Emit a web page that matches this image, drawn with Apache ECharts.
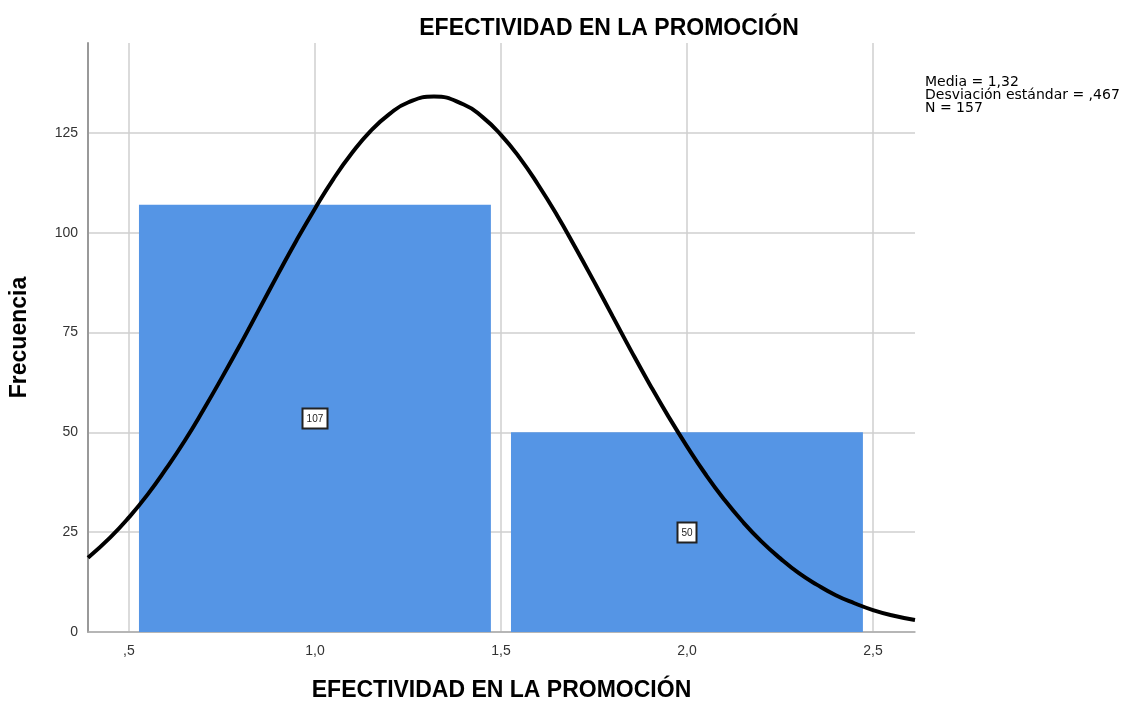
<!DOCTYPE html>
<html><head><meta charset="utf-8">
<script src="https://cdn.jsdelivr.net/npm/echarts@6/dist/echarts.min.js"></script>
<style>html,body{margin:0;padding:0;background:#fff}#c{width:1129px;height:708px}</style>
</head><body><div id="c"></div>
<script>
// Histogram bins (centers) and frequencies
const binCenters = [1, 2];
const frequencies = [107, 50];
// Normal curve heights
const curveX = [0.39, 0.45, 0.5, 0.55, 0.6, 0.65, 0.7, 0.75, 0.8, 0.85, 0.9, 0.95, 1.0, 1.05, 1.1, 1.15, 1.2, 1.25, 1.32, 1.4, 1.45, 1.5, 1.55, 1.6, 1.65, 1.7, 1.75, 1.8, 1.85, 1.9, 1.95, 2.0, 2.05, 2.1, 2.15, 2.2, 2.25, 2.3, 2.35, 2.4, 2.45, 2.5, 2.55, 2.613];
const curveY = [18.6, 23.7, 28.7, 34.4, 40.9, 47.9, 55.6, 63.7, 72.1, 80.8, 89.5, 98.0, 106.0, 113.5, 120.0, 125.5, 129.7, 132.6, 134.1, 132.1, 129.0, 124.5, 118.8, 112.0, 104.5, 96.3, 87.8, 79.1, 70.4, 62.0, 54.0, 46.5, 39.5, 33.2, 27.6, 22.7, 18.5, 14.8, 11.8, 9.2, 7.2, 5.5, 4.2, 3.0];
const xTicks = [0.5, 1.0, 1.5, 2.0, 2.5];
const xTickLabels = [',5', '1,0', '1,5', '2,0', '2,5'];
const yTicks = [0, 25, 50, 75, 100, 125];
const statsLines = ['Media = 1,32', 'Desviación estándar = ,467', 'N = 157'];

const chart = echarts.init(document.getElementById('c'), null, {renderer: 'canvas'});
const FONT = 'Liberation Sans, Arial, sans-serif';
const WFONT = 'DejaVu Sans, sans-serif';
const halfBar = 0.473;

const option = {
  animation: false,
  backgroundColor: '#fff',
  title: {
    text: 'EFECTIVIDAD EN LA PROMOCIÓN',
    left: 604, top: 12, textAlign: 'center',
    textStyle: {fontFamily: FONT, fontSize: 23, fontWeight: 'bold', color: '#000'}
  },
  graphic: [{
    type: 'text', left: 925, top: 75,
    style: {text: statsLines.join('\n'), fontFamily: WFONT, fontSize: 14, lineHeight: 13, fill: '#000'}
  }],
  grid: {left: 88, right: 214, top: 43, bottom: 76, containLabel: false, outerBoundsMode: 'none'},
  xAxis: {
    type: 'value', min: 0.39, max: 2.613,
    name: 'EFECTIVIDAD EN LA PROMOCIÓN', nameLocation: 'middle', nameGap: 47,
    nameTextStyle: {fontFamily: FONT, fontSize: 23, fontWeight: 'bold', color: '#000'},
    axisLine: {show: true, lineStyle: {color: '#aaa', width: 1.5}},
    axisTick: {show: false, customValues: xTicks},
    axisLabel: {customValues: xTicks, fontFamily: FONT, fontSize: 14, color: '#333', margin: 12,
      formatter: v => { const i = xTicks.findIndex(t => Math.abs(t - v) < 1e-6); return i >= 0 ? xTickLabels[i] : ''; }},
    splitLine: {show: true, lineStyle: {color: '#cfcfcf', width: 1.5}}
  },
  yAxis: {
    type: 'value', min: 0, max: 147.5,
    name: 'Frecuencia', nameLocation: 'middle', nameGap: 57,
    nameTextStyle: {fontFamily: FONT, fontSize: 23, fontWeight: 'bold', color: '#000'},
    axisLine: {show: true, lineStyle: {color: '#999', width: 2}},
    axisTick: {show: false, customValues: yTicks},
    axisLabel: {customValues: yTicks, fontFamily: FONT, fontSize: 14, color: '#333', margin: 10},
    splitLine: {show: true, lineStyle: {color: '#cfcfcf', width: 1.5}}
  },
  series: [
    {
      type: 'custom',
      data: binCenters.map((c, i) => [c, frequencies[i]]),
      z: 2,
      renderItem: function (params, api) {
        const c = api.value(0), f = api.value(1);
        const p0 = api.coord([c - halfBar, f]);
        const p1 = api.coord([c + halfBar, 0]);
        const mid = api.coord([c, f / 2]);
        const label = String(f);
        const w = label.length * 6 + 7;
        return {
          type: 'group',
          children: [
            {type: 'rect', shape: {x: p0[0], y: p0[1], width: p1[0] - p0[0], height: p1[1] - p0[1]},
             style: {fill: '#5595e5'}},
            {type: 'rect', z2: 20, shape: {x: Math.round(mid[0] - w / 2) + 0.5, y: Math.round(mid[1] - 10) + 0.5, width: w, height: 20},
             style: {fill: '#fff', stroke: '#222', lineWidth: 2}},
            {type: 'text', z2: 21, style: {x: mid[0], y: mid[1] + 1, text: label, align: 'center', verticalAlign: 'middle',
             fontFamily: FONT, fontSize: 10, fill: '#222'}}
          ]
        };
      }
    },
    {
      type: 'line', z: 5,
      data: curveX.map((x, i) => [x, curveY[i]]),
      smooth: true, showSymbol: false, symbol: 'none',
      lineStyle: {color: '#000', width: 4},
      clip: true
    }
  ]
};
chart.setOption(option);
</script></body></html>
